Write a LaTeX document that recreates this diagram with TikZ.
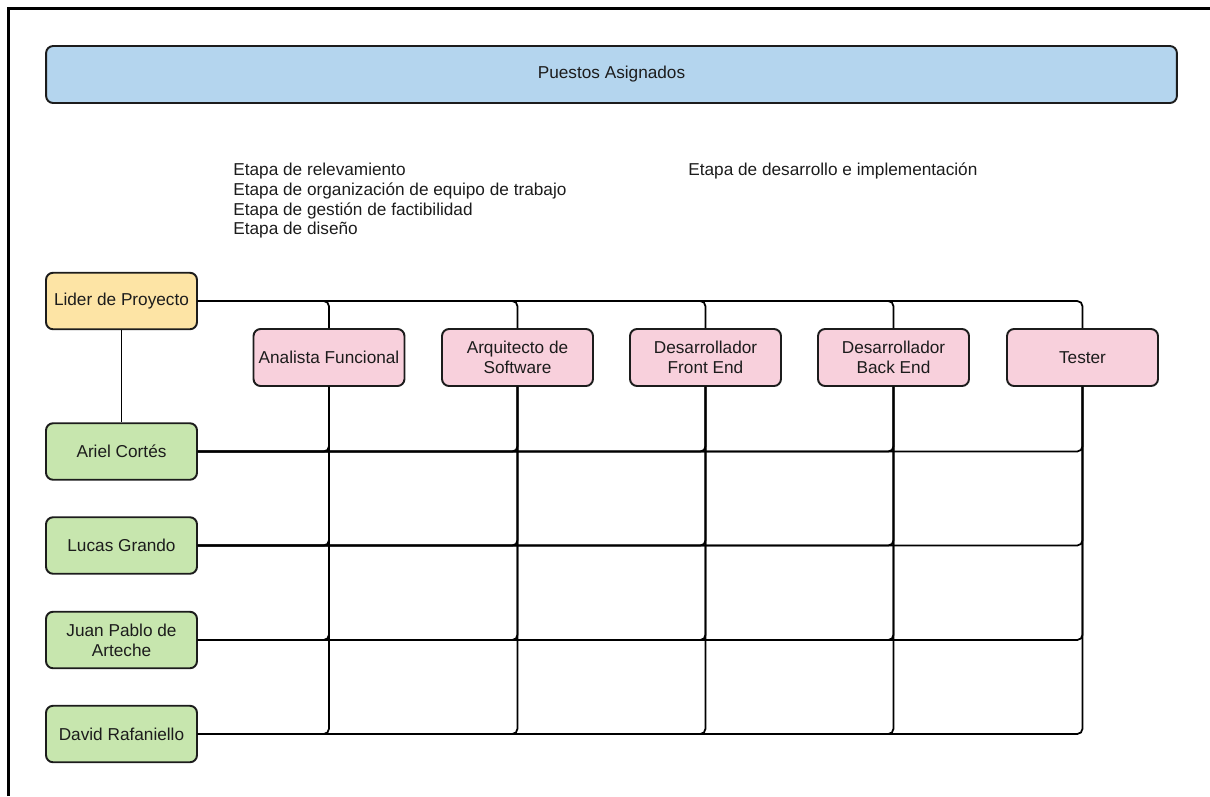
\documentclass[tikz,border=0pt]{standalone}
\usepackage{fontspec}
\setmainfont{Liberation Sans}
\usepackage{xcolor}
\definecolor{headblue}{HTML}{B4D5EE}
\definecolor{leadyellow}{HTML}{FDE4A5}
\definecolor{rolepink}{HTML}{F8D0DC}
\definecolor{persongreen}{HTML}{C7E6AE}
\definecolor{edgeblack}{HTML}{1C1C1C}
\tikzset{
  box/.style={draw=edgeblack, line width=1.1pt, rounded corners=4pt, minimum width=3.02cm, minimum height=1.13cm, align=center, inner sep=2pt, text=edgeblack, font=\fontsize{9.8}{11.2}\selectfont},
  header/.style={box, fill=headblue, minimum width=22.62cm, minimum height=1.14cm},
  lead/.style={box, fill=leadyellow},
  role/.style={box, fill=rolepink, minimum height=1.14cm},
  person/.style={box, fill=persongreen},
  stage/.style={anchor=base west, inner sep=0pt, text=edgeblack, font=\fontsize{9.8}{11.2}\selectfont},
  link/.style={draw=black, line width=1pt, rounded corners=3pt},
  frame/.style={draw=black, line width=1.7pt},
}
\begin{document}
\begin{tikzpicture}[x=0.02cm, y=-0.02cm]
  \useasboundingbox (0,0) rectangle (1210,796);
  \draw[frame] (8.7,796) -- (8.7,8.7) -- (1210,8.7);

  \node[header] (titulo) at (611.5,74.5) {Puestos Asignados};

  \foreach \t [count=\i] in {Etapa de relevamiento, Etapa de organización de equipo de trabajo, Etapa de gestión de factibilidad, Etapa de diseño}
    \node[stage] (stage\i) at (233,156+19.7*\i) {\t};
  \node[stage] (stage5) at (688,175.7) {Etapa de desarrollo e implementación};

  \node[lead] (lider) at (121.5,301) {Lider de Proyecto};

  \node[role] (analista) at (329,357.5) {Analista Funcional};
  \node[role] (arquitecto) at (517.5,357.5) {Arquitecto de\\Software};
  \node[role] (frontend) at (705.5,357.5) {Desarrollador\\Front End};
  \node[role] (backend) at (893.5,357.5) {Desarrollador\\Back End};
  \node[role] (tester) at (1082.5,357.5) {Tester};

  \node[person] (ariel) at (121.5,451.5) {Ariel Cortés};
  \node[person] (lucas) at (121.5,545.5) {Lucas Grando};
  \node[person] (juan) at (121.5,640) {Juan Pablo de\\Arteche};
  \node[person] (david) at (121.5,734) {David Rafaniello};

  \draw[link] (lider) -- (ariel);
  \foreach \r in {analista,arquitecto,frontend,backend,tester} {
    \draw[link] (lider.east) -| (\r.north);
    \foreach \p in {ariel,lucas,juan,david}
      \draw[link] (\p.east) -| (\r.south);
  }
\end{tikzpicture}
\end{document}
